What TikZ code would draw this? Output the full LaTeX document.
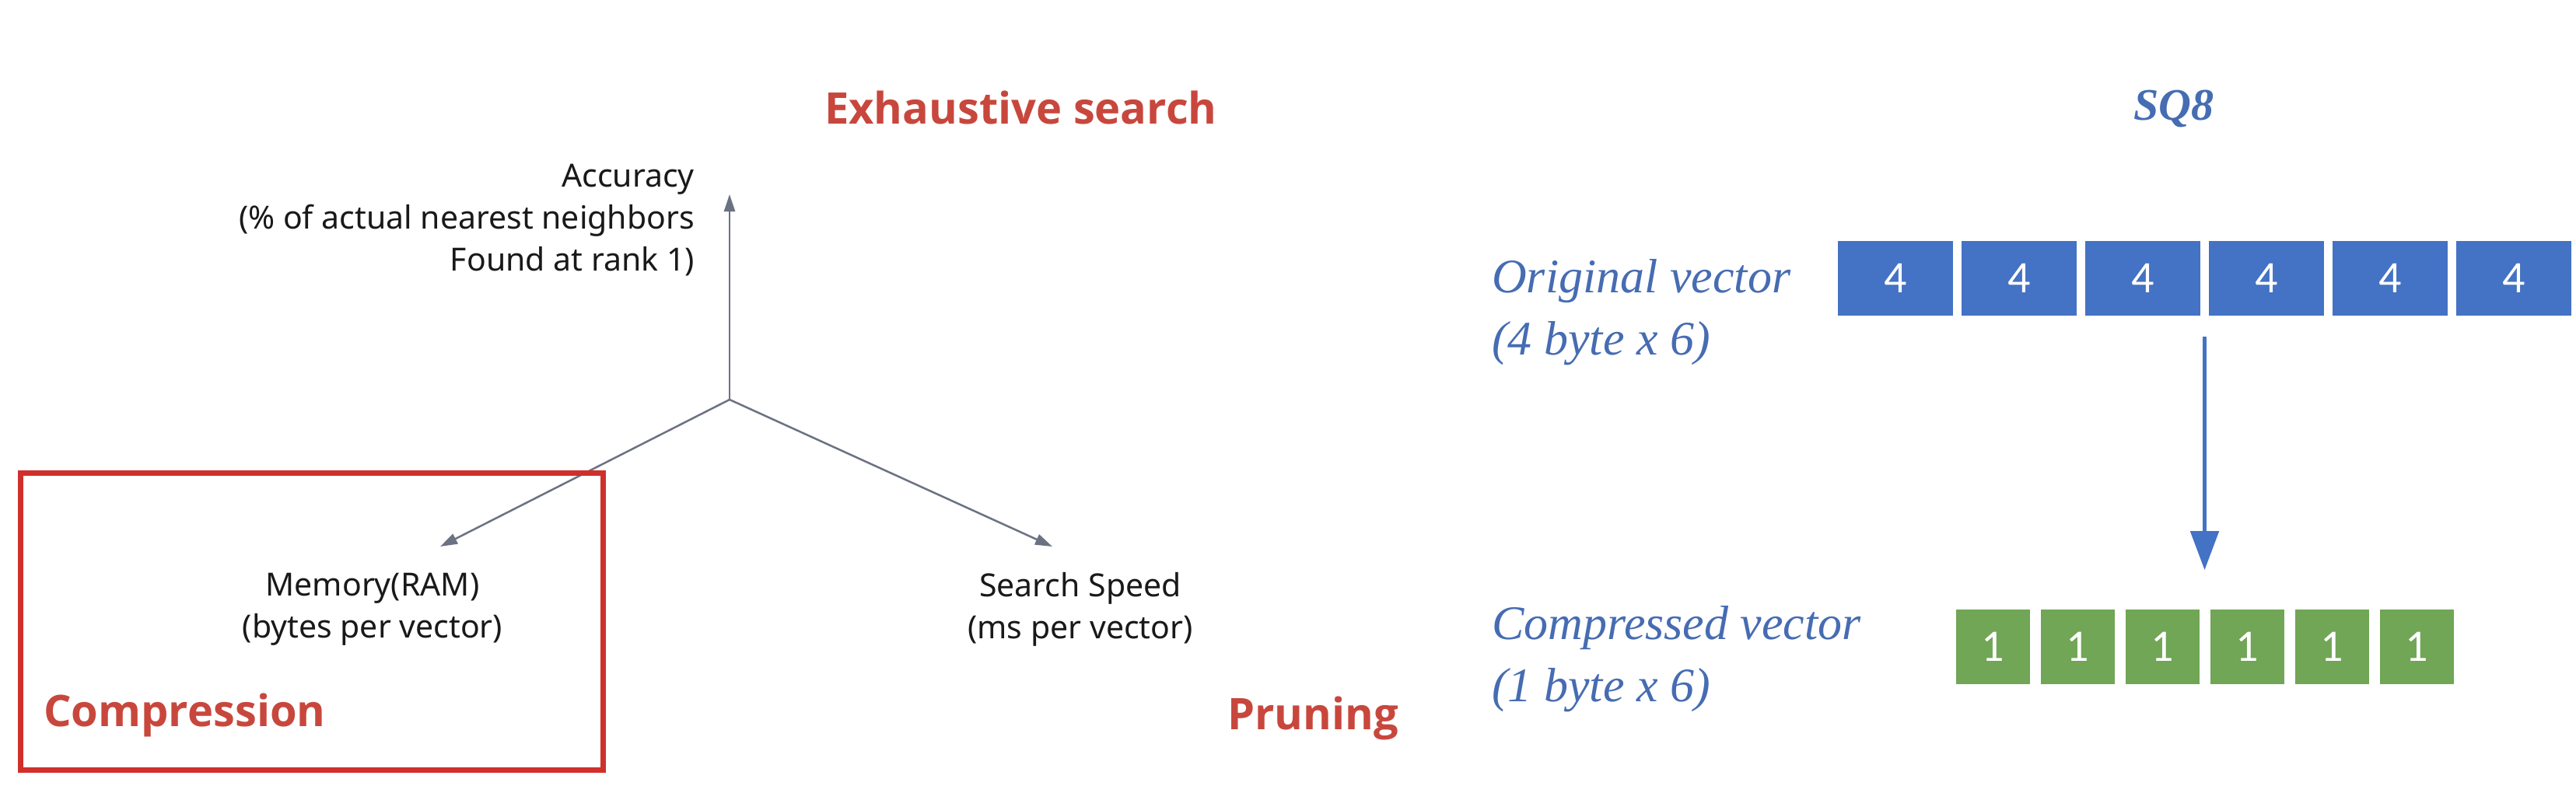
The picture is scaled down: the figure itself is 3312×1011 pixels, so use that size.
\documentclass[tikz,border=0pt]{standalone}
\usepackage{fontspec}
\setmainfont{Noto Sans}
\newfontfamily\redfont{Open Sans}
\newfontfamily\serifit{Liberation Serif}
\newfontfamily\numfont{Carlito}
\usetikzlibrary{arrows.meta,calc}
\definecolor{axisgray}{RGB}{107,114,130}
\definecolor{labelred}{RGB}{200,71,61}
\definecolor{boxred}{RGB}{208,48,43}
\definecolor{vblue}{RGB}{68,114,196}
\definecolor{txtblue}{RGB}{70,108,178}
\definecolor{vgreen}{RGB}{112,166,85}
\definecolor{labelblack}{RGB}{25,25,25}
\tikzset{
  axis/.style={draw=axisgray,line width=2.5pt,-{Triangle[length=22pt,width=14pt]}},
  axislabel/.style={inner sep=0pt,text=labelblack,font=\fontsize{41}{54}\selectfont},
  redlabel/.style={inner sep=0pt,text=labelred,font=\redfont\bfseries\fontsize{56}{66}\selectfont},
  sidelabel/.style={inner sep=0pt,text=txtblue,align=left,font=\serifit\itshape\fontsize{62}{80}\selectfont},
  origcell/.style={fill=vblue,minimum width=148pt,minimum height=96pt,inner sep=0pt,text=white,font=\numfont\fontsize{58}{60}\selectfont},
  compcell/.style={fill=vgreen,minimum width=95pt,minimum height=96pt,inner sep=0pt,text=white,font=\numfont\fontsize{58}{60}\selectfont},
  sqarrow/.style={draw=vblue,line width=5pt,-{Triangle[length=50pt,width=36pt]}},
  framebox/.style={draw=boxred,line width=7pt}
}
\begin{document}
\begin{tikzpicture}[x=1pt,y=-1pt]
\useasboundingbox (0,0) rectangle (3312,1011);
\fill[white] (0,0) rectangle (3312,1011);

% axes
\coordinate (O) at (938,514);
\coordinate (accTip) at (938,250);
\coordinate (memTip) at (566,703);
\coordinate (spdTip) at (1353,703);
\draw[axis] (O) -- (accTip);
\draw[axis] (O) -- (memTip);
\draw[axis] (O) -- (spdTip);

\node[axislabel,align=right,anchor=east] (acc) at (893,283) {Accuracy\\(\% of actual nearest neighbors\\Found at rank 1)};
\node[axislabel,align=center] (mem) at (479,784) {Memory(RAM)\\(bytes per vector)};
\node[axislabel,align=center] (spd) at (1389,784) {Search Speed\\(ms per vector)};

% red labels
\node[redlabel,anchor=base west] (exh) at (1060,160) {Exhaustive search};
\node[redlabel,anchor=base west] (comp) at (56,934) {Compression};
\node[redlabel,anchor=base west] (prun) at (1578,938) {Pruning};
\draw[framebox] (26,608) rectangle (775,990);

% SQ8 part
\node[inner sep=0pt,text=txtblue,font=\serifit\bfseries\itshape\fontsize{58}{70}\selectfont,anchor=base] (sq) at (2795,155) {SQ8};
\node[sidelabel,anchor=west] (origlab) at (1918,402) {Original vector\\(4 byte x 6)};
\node[sidelabel,anchor=west] (complab) at (1918,848) {Compressed vector\\(1 byte x 6)};

\foreach \i in {1,...,6}{
  \node[origcell] (o\i) at ({2363+74+(\i-1)*159},358) {4};
  \node[compcell] (c\i) at ({2515+47.5+(\i-1)*109},832) {1};
}
\coordinate (arrS) at ($(o3.south east)!0.5!(o4.south west)+(0,27)$);
\coordinate (arrE) at ($(arrS)+(0,300)$);
\draw[sqarrow] (arrS) -- (arrE);
\end{tikzpicture}
\end{document}
